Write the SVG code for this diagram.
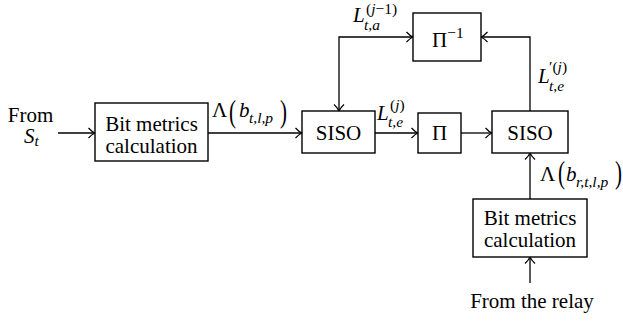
<svg xmlns="http://www.w3.org/2000/svg" width="623" height="321" viewBox="0 0 623 321">
<defs>
<marker id="ar" viewBox="0 0 12 12" refX="10" refY="6" markerWidth="12" markerHeight="12" markerUnits="userSpaceOnUse" orient="auto-start-reverse">
<path d="M3.5,1 Q7,4.8 10,6 Q7,7.2 3.5,11" fill="none" stroke="#000" stroke-width="1.2"/>
</marker>
</defs>
<rect width="623" height="321" fill="#fff"/>
<g id="connectors" fill="none" stroke="#000" stroke-width="1.3">
<path d="M58,133 H95" marker-end="url(#ar)"/>
<path d="M208,133 H302" marker-end="url(#ar)"/>
<path d="M375,133 H418" marker-end="url(#ar)"/>
<path d="M461,133 H492" marker-end="url(#ar)"/>
<path d="M339,111 V37 H413" marker-start="url(#ar)" marker-end="url(#ar)"/>
<path d="M530,111 V37 H481" marker-end="url(#ar)"/>
<path d="M530,199 V153" marker-end="url(#ar)"/>
<path d="M530,283 V257" marker-end="url(#ar)"/>
</g>
<g font-family="Liberation Serif" font-size="21" fill="#000">
<g id="src">
<text x="30.5" y="122" text-anchor="middle">From</text>
<text x="24" y="143" font-style="italic">S<tspan font-size="15.5" dy="3">t</tspan></text>
</g>
<g id="bm1">
<rect x="95" y="103" width="113" height="58" fill="#fff" stroke="#000" stroke-width="1.4"/>
<text x="151.5" y="131" text-anchor="middle">Bit metrics</text>
<text x="151.5" y="153" text-anchor="middle">calculation</text>
</g>
<g id="siso1">
<rect x="302" y="111" width="73" height="42" fill="#fff" stroke="#000" stroke-width="1.4"/>
<text x="338.5" y="140" text-anchor="middle">SISO</text>
</g>
<g id="pi">
<rect x="418" y="113" width="43" height="40" fill="#fff" stroke="#000" stroke-width="1.4"/>
<text x="439.5" y="140" text-anchor="middle">Π</text>
</g>
<g id="siso2">
<rect x="492" y="111" width="76" height="42" fill="#fff" stroke="#000" stroke-width="1.4"/>
<text x="530" y="140" text-anchor="middle">SISO</text>
</g>
<g id="piinv">
<rect x="413" y="13" width="68" height="48" fill="#fff" stroke="#000" stroke-width="1.4"/>
<text x="432" y="47">Π<tspan font-size="15.5" dy="-9">−1</tspan></text>
</g>
<g id="bm2">
<rect x="473" y="199" width="114" height="58" fill="#fff" stroke="#000" stroke-width="1.4"/>
<text x="530" y="225" text-anchor="middle">Bit metrics</text>
<text x="530" y="247" text-anchor="middle">calculation</text>
</g>
<g id="relay">
<text x="532" y="308" text-anchor="middle">From the relay</text>
</g>
<g id="labels">
<text x="212" y="117">Λ</text>
<text transform="translate(229,113.5) scale(1,1.5)" x="0" y="5.4">(</text>
<text x="239" y="117" font-style="italic">b</text>
<text x="249" y="123" font-style="italic" font-size="15.5">t,l,p</text>
<text transform="translate(280,113.5) scale(1,1.5)" x="0" y="5.4">)</text>

<text x="540" y="181">Λ</text>
<text transform="translate(558,175) scale(1,1.5)" x="0" y="5.4">(</text>
<text x="566" y="181" font-style="italic">b</text>
<text x="576" y="187" font-style="italic" font-size="15.5">r,t,l,p</text>
<text transform="translate(615,175) scale(1,1.5)" x="0" y="5.4">)</text>

<text x="353" y="22" font-style="italic">L</text>
<text x="366" y="14" font-size="15.5">(<tspan font-style="italic">j</tspan>−1)</text>
<text x="364" y="30" font-style="italic" font-size="15.5">t,a</text>

<text x="377" y="120" font-style="italic">L</text>
<text x="390" y="110" font-size="15.5">(<tspan font-style="italic">j</tspan>)</text>
<text x="388" y="127" font-style="italic" font-size="15.5">t,e</text>

<text x="538" y="83" font-style="italic">L</text>
<text x="549" y="72" font-size="15.5">′(<tspan font-style="italic">j</tspan>)</text>
<text x="549" y="91" font-style="italic" font-size="15.5">t,e</text>
</g>
</g>
</svg>
